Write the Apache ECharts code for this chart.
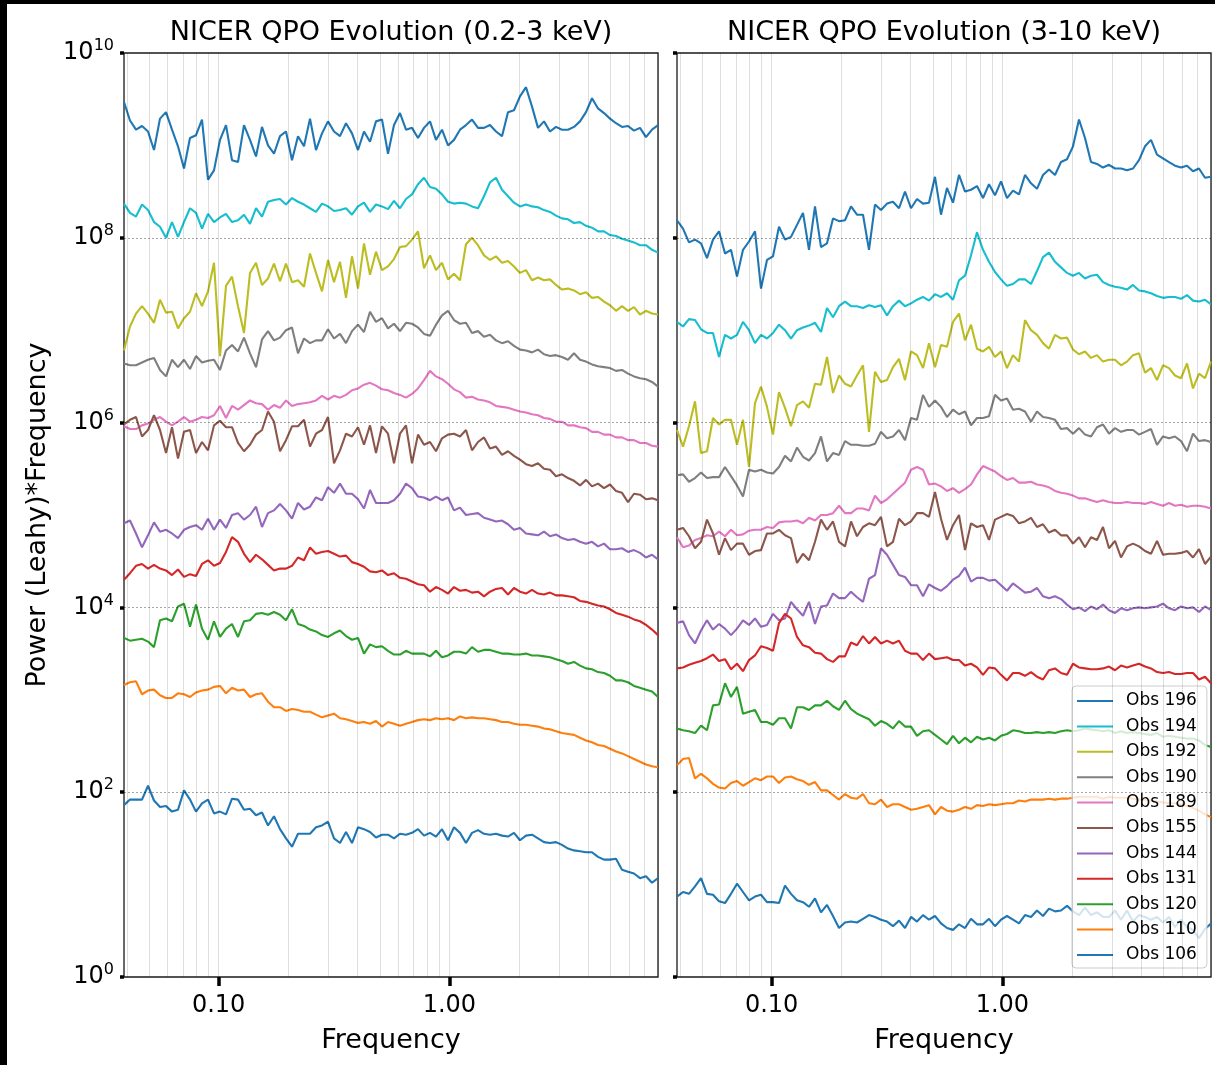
<!DOCTYPE html>
<html>
<head>
<meta charset="utf-8">
<script src="https://cdn.jsdelivr.net/npm/echarts@6/dist/echarts.min.js"></script>
<style>html,body{margin:0;padding:0;background:#fff}#c{width:1215px;height:1065px}</style>
</head>
<body>
<div id="c"></div>
<script>
// log10 of frequency for each sample (shared by all curves)
const freqLog = [-1.41,-1.384,-1.358,-1.332,-1.306,-1.28,-1.254,-1.228,-1.202,-1.176,-1.15,-1.124,-1.098,-1.072,-1.046,-1.02,-0.994,-0.968,-0.942,-0.916,-0.89,-0.864,-0.838,-0.812,-0.786,-0.76,-0.734,-0.708,-0.682,-0.656,-0.63,-0.604,-0.578,-0.552,-0.526,-0.5,-0.474,-0.448,-0.422,-0.396,-0.37,-0.344,-0.318,-0.292,-0.266,-0.24,-0.214,-0.188,-0.162,-0.136,-0.11,-0.084,-0.058,-0.032,-0.006,0.02,0.046,0.072,0.098,0.124,0.15,0.176,0.202,0.228,0.254,0.28,0.306,0.332,0.358,0.384,0.41,0.436,0.462,0.488,0.514,0.54,0.566,0.592,0.618,0.644,0.67,0.696,0.722,0.748,0.774,0.8,0.826,0.852,0.878,0.904];

const obsNames = ['Obs 196','Obs 194','Obs 192','Obs 190','Obs 189','Obs 155','Obs 144','Obs 131','Obs 120','Obs 110','Obs 106'];
const obsColors = ['#1f77b4','#17becf','#bcbd22','#7f7f7f','#e377c2','#8c564b','#9467bd','#d62728','#2ca02c','#ff7f0e','#1f77b4'];

const titles = ['NICER QPO Evolution (0.2-3 keV)','NICER QPO Evolution (3-10 keV)'];
const xTickValues = [0.1, 1];
const yTickValues = [1, 1e2, 1e4, 1e6, 1e8, 1e10];
const xGridValues = [0.04,0.05,0.06,0.07,0.08,0.09,0.1,0.2,0.3,0.4,0.5,0.6,0.7,0.8,0.9,1,2,3,4,5,6,7,8];
const yGridValues = [1e2, 1e4, 1e6, 1e8];

// ---- 0.2-3 keV panel: log10(Power*Frequency) ----
const soft196 = [9.47,9.27,9.17,9.21,9.15,8.95,9.29,9.36,9.17,8.99,8.75,9.08,9.11,9.28,8.63,8.73,9.06,9.22,8.84,8.82,9.22,9.06,8.88,9.20,9.00,8.91,9.10,9.15,8.84,9.10,8.99,9.29,8.95,9.13,9.26,9.15,9.10,9.24,9.13,8.95,9.15,9.04,9.26,9.28,8.91,9.22,9.35,9.17,9.19,9.08,9.19,9.26,9.06,9.17,9.00,9.06,9.17,9.22,9.28,9.19,9.19,9.22,9.15,9.10,9.36,9.38,9.53,9.63,9.42,9.19,9.26,9.15,9.20,9.17,9.17,9.20,9.26,9.36,9.51,9.40,9.35,9.29,9.24,9.20,9.21,9.16,9.19,9.09,9.17,9.22];
const soft194 = [8.37,8.27,8.23,8.36,8.30,8.17,8.12,8.00,8.17,8.01,8.17,8.32,8.27,8.10,8.26,8.17,8.22,8.26,8.17,8.19,8.25,8.15,8.32,8.23,8.39,8.41,8.42,8.36,8.43,8.39,8.36,8.32,8.28,8.37,8.34,8.29,8.30,8.32,8.25,8.34,8.38,8.28,8.36,8.34,8.31,8.40,8.32,8.42,8.47,8.58,8.65,8.55,8.53,8.47,8.39,8.37,8.38,8.37,8.34,8.32,8.45,8.60,8.65,8.52,8.45,8.38,8.34,8.36,8.34,8.33,8.30,8.28,8.24,8.21,8.20,8.16,8.17,8.13,8.11,8.07,8.07,8.03,8.02,7.99,7.97,7.95,7.92,7.92,7.87,7.84];
const soft192 = [6.78,7.04,7.18,7.26,7.18,7.08,7.33,7.19,7.20,7.02,7.13,7.20,7.40,7.26,7.42,7.73,6.72,7.48,7.58,7.26,6.97,7.62,7.73,7.49,7.56,7.72,7.53,7.72,7.52,7.54,7.47,7.83,7.62,7.42,7.76,7.52,7.74,7.35,7.80,7.45,7.94,7.60,7.85,7.65,7.69,7.77,7.90,7.91,7.98,8.07,7.67,7.81,7.65,7.73,7.55,7.61,7.54,7.93,8.00,7.92,7.81,7.76,7.80,7.73,7.75,7.69,7.62,7.65,7.54,7.57,7.54,7.55,7.49,7.44,7.45,7.43,7.39,7.41,7.35,7.36,7.31,7.27,7.21,7.26,7.21,7.25,7.17,7.21,7.18,7.17];
const soft190 = [6.64,6.62,6.62,6.65,6.68,6.70,6.57,6.50,6.68,6.60,6.68,6.58,6.72,6.65,6.67,6.68,6.57,6.78,6.84,6.77,6.92,6.75,6.60,6.90,6.99,6.89,6.92,7.00,7.03,6.75,6.91,6.86,6.89,6.89,7.01,6.91,6.96,6.86,6.99,7.06,6.98,7.20,7.09,7.13,7.02,7.07,6.99,7.08,7.07,7.03,6.96,6.94,7.06,7.16,7.21,7.11,7.07,7.08,6.97,6.99,6.93,6.95,6.89,6.86,6.88,6.83,6.79,6.78,6.76,6.79,6.74,6.72,6.73,6.71,6.68,6.75,6.68,6.66,6.63,6.61,6.60,6.59,6.56,6.57,6.53,6.50,6.48,6.47,6.44,6.39];
const soft189 = [5.96,5.93,5.93,5.97,5.99,6.03,6.06,6.01,5.97,6.01,6.06,6.01,6.03,6.06,6.05,6.08,6.18,6.05,6.18,6.14,6.19,6.24,6.21,6.20,6.14,6.19,6.16,6.24,6.18,6.20,6.21,6.22,6.24,6.29,6.25,6.29,6.27,6.30,6.35,6.37,6.41,6.43,6.40,6.36,6.35,6.32,6.30,6.27,6.31,6.37,6.46,6.56,6.50,6.47,6.42,6.36,6.33,6.27,6.28,6.25,6.24,6.22,6.18,6.17,6.16,6.14,6.12,6.11,6.09,6.08,6.05,6.04,6.01,6.01,5.97,5.97,5.95,5.94,5.90,5.90,5.87,5.87,5.84,5.84,5.81,5.81,5.78,5.78,5.75,5.74];
const soft155 = [5.98,6.03,6.06,5.85,5.92,6.08,5.92,5.67,5.95,5.61,5.90,5.92,5.67,5.79,5.70,5.97,6.02,5.95,5.95,5.78,5.69,5.76,5.87,5.92,6.12,6.01,5.69,5.81,5.96,5.96,6.03,5.74,5.88,5.92,6.06,5.56,5.70,5.88,5.85,5.95,5.76,5.97,5.67,5.96,5.88,5.56,5.88,5.97,5.56,5.87,5.76,5.79,5.69,5.83,5.87,5.88,5.85,5.92,5.70,5.79,5.84,5.72,5.74,5.65,5.69,5.64,5.60,5.55,5.53,5.56,5.50,5.49,5.42,5.44,5.40,5.37,5.32,5.38,5.31,5.34,5.29,5.33,5.26,5.24,5.14,5.23,5.22,5.17,5.18,5.16];
const soft144 = [4.91,4.94,4.80,4.65,4.78,4.92,4.82,4.84,4.80,4.75,4.84,4.87,4.89,4.84,4.96,4.84,4.95,4.86,5.00,5.02,4.95,5.00,5.09,4.87,5.02,5.05,5.12,5.05,4.96,5.13,5.06,5.09,5.19,5.16,5.30,5.24,5.34,5.23,5.23,5.17,5.07,5.27,5.13,5.13,5.13,5.16,5.23,5.34,5.29,5.20,5.19,5.16,5.20,5.16,5.19,5.05,5.08,5.00,5.01,5.02,4.97,4.95,4.93,4.94,4.90,4.84,4.86,4.80,4.79,4.78,4.82,4.77,4.79,4.75,4.73,4.74,4.71,4.69,4.71,4.66,4.69,4.63,4.63,4.64,4.60,4.62,4.59,4.54,4.57,4.52];
const soft131 = [4.30,4.37,4.45,4.47,4.42,4.46,4.42,4.40,4.35,4.41,4.33,4.36,4.34,4.47,4.51,4.45,4.48,4.60,4.76,4.71,4.58,4.49,4.57,4.52,4.46,4.40,4.42,4.42,4.45,4.54,4.51,4.65,4.58,4.60,4.61,4.58,4.55,4.56,4.49,4.47,4.44,4.39,4.38,4.40,4.35,4.37,4.32,4.31,4.28,4.25,4.24,4.17,4.22,4.19,4.15,4.22,4.18,4.19,4.16,4.17,4.12,4.17,4.20,4.21,4.14,4.21,4.17,4.15,4.19,4.15,4.14,4.16,4.13,4.13,4.12,4.11,4.07,4.06,4.04,4.02,4.01,3.98,3.94,3.92,3.90,3.87,3.85,3.81,3.76,3.70];
const soft120 = [3.67,3.64,3.65,3.66,3.63,3.57,3.86,3.88,3.85,4.01,4.04,3.79,4.03,3.77,3.65,3.85,3.68,3.77,3.82,3.68,3.85,3.86,3.93,3.94,3.92,3.95,3.92,3.86,3.98,3.82,3.80,3.76,3.74,3.70,3.68,3.72,3.75,3.69,3.65,3.67,3.50,3.60,3.57,3.58,3.53,3.49,3.49,3.53,3.50,3.50,3.50,3.47,3.53,3.46,3.48,3.52,3.52,3.50,3.57,3.52,3.54,3.54,3.52,3.50,3.50,3.49,3.49,3.50,3.48,3.48,3.47,3.46,3.44,3.42,3.39,3.41,3.37,3.34,3.33,3.30,3.29,3.26,3.21,3.21,3.19,3.15,3.13,3.11,3.09,3.03];
const soft110 = [3.16,3.19,3.20,3.06,3.10,3.11,3.05,3.02,3.02,3.07,3.06,3.03,3.08,3.10,3.11,3.14,3.15,3.07,3.13,3.10,3.11,3.03,3.06,3.07,2.98,2.92,2.92,2.88,2.90,2.89,2.87,2.87,2.84,2.81,2.83,2.85,2.80,2.79,2.77,2.75,2.76,2.74,2.77,2.71,2.76,2.74,2.72,2.74,2.76,2.78,2.79,2.78,2.80,2.79,2.80,2.78,2.82,2.80,2.81,2.80,2.80,2.79,2.78,2.76,2.76,2.74,2.73,2.73,2.72,2.71,2.69,2.68,2.66,2.64,2.63,2.62,2.59,2.56,2.54,2.51,2.50,2.47,2.44,2.42,2.39,2.36,2.33,2.30,2.28,2.27];
const soft106 = [1.86,1.92,1.92,1.92,2.07,1.91,1.84,1.85,1.79,1.81,2.02,1.92,1.79,1.88,1.92,1.77,1.79,1.76,1.93,1.92,1.81,1.82,1.75,1.78,1.64,1.74,1.60,1.50,1.41,1.55,1.55,1.55,1.62,1.64,1.68,1.50,1.45,1.57,1.45,1.62,1.60,1.57,1.51,1.54,1.54,1.50,1.55,1.54,1.56,1.60,1.53,1.56,1.52,1.60,1.48,1.62,1.56,1.45,1.56,1.59,1.55,1.54,1.55,1.53,1.52,1.56,1.48,1.53,1.54,1.50,1.46,1.45,1.46,1.43,1.39,1.37,1.36,1.35,1.35,1.30,1.27,1.27,1.28,1.16,1.14,1.12,1.07,1.09,1.02,1.07];

// ---- 3-10 keV panel: log10(Power*Frequency) ----
const hard196 = [8.19,8.10,7.95,7.98,7.94,7.78,7.98,8.07,7.83,7.87,7.58,7.87,7.96,8.07,7.45,7.76,7.80,8.12,7.98,8.01,8.14,8.27,7.87,8.34,7.90,7.94,8.21,8.18,8.19,8.34,8.25,8.25,7.87,8.36,8.30,8.37,8.39,8.32,8.50,8.32,8.42,8.37,8.38,8.66,8.25,8.54,8.38,8.68,8.50,8.52,8.56,8.43,8.58,8.46,8.61,8.43,8.51,8.47,8.68,8.59,8.53,8.68,8.74,8.68,8.82,8.85,8.99,9.28,9.08,8.82,8.80,8.76,8.79,8.75,8.75,8.73,8.75,8.84,8.99,9.06,8.90,8.86,8.82,8.78,8.76,8.78,8.72,8.75,8.65,8.66];
const hard194 = [7.09,7.04,7.12,7.11,7.01,6.97,6.97,6.71,6.95,6.91,6.95,7.09,7.00,6.86,6.95,6.91,6.97,7.06,7.00,6.91,7.00,7.03,7.05,7.08,6.98,7.24,7.14,7.26,7.31,7.26,7.26,7.24,7.27,7.25,7.27,7.16,7.26,7.32,7.26,7.29,7.33,7.36,7.32,7.39,7.36,7.40,7.33,7.54,7.59,7.81,8.06,7.87,7.74,7.63,7.55,7.48,7.50,7.55,7.55,7.50,7.64,7.79,7.84,7.74,7.68,7.62,7.59,7.62,7.56,7.59,7.60,7.52,7.49,7.47,7.46,7.44,7.49,7.43,7.42,7.40,7.37,7.35,7.36,7.36,7.34,7.38,7.32,7.31,7.33,7.28];
const hard192 = [5.92,5.74,5.96,6.23,5.67,5.69,6.05,5.98,6.03,6.03,5.76,6.03,5.52,6.21,6.39,6.17,5.87,6.33,6.16,5.96,6.19,6.23,6.16,6.42,6.41,6.71,6.32,6.51,6.42,6.39,6.51,6.62,5.90,6.55,6.44,6.46,6.60,6.69,6.46,6.77,6.73,6.59,6.86,6.60,6.84,6.82,7.09,7.18,6.89,7.06,6.80,6.77,6.82,6.71,6.77,6.59,6.73,6.66,7.11,7.00,6.95,6.86,6.80,6.95,6.91,6.92,6.79,6.74,6.77,6.70,6.73,6.66,6.68,6.68,6.62,6.66,6.73,6.75,6.54,6.59,6.46,6.62,6.59,6.51,6.48,6.64,6.37,6.53,6.48,6.66];
const hard190 = [5.43,5.44,5.36,5.40,5.46,5.40,5.41,5.41,5.52,5.42,5.32,5.20,5.49,5.47,5.49,5.46,5.45,5.52,5.64,5.58,5.73,5.63,5.59,5.67,5.85,5.58,5.67,5.65,5.80,5.76,5.76,5.75,5.75,5.77,5.90,5.83,5.85,5.92,5.81,6.05,6.03,6.30,6.17,6.24,6.17,6.06,6.14,6.09,6.12,5.97,6.05,6.05,6.07,6.30,6.24,6.26,6.14,6.15,6.12,6.01,6.12,6.06,6.05,6.03,5.93,5.94,5.88,5.94,5.87,5.85,5.95,5.98,5.88,5.94,5.90,5.92,5.92,5.87,5.90,5.93,5.76,5.85,5.83,5.85,5.80,5.69,5.88,5.80,5.81,5.79];
const hard189 = [4.76,4.65,4.67,4.73,4.75,4.78,4.77,4.82,4.77,4.84,4.78,4.79,4.83,4.84,4.84,4.87,4.86,4.92,4.93,4.93,4.94,4.91,4.97,4.94,5.00,5.00,5.02,5.10,5.02,5.02,5.07,5.07,5.05,5.21,5.13,5.17,5.23,5.29,5.35,5.49,5.52,5.49,5.33,5.34,5.31,5.26,5.29,5.24,5.28,5.33,5.44,5.53,5.50,5.47,5.42,5.38,5.40,5.35,5.35,5.36,5.33,5.32,5.30,5.26,5.24,5.23,5.21,5.18,5.18,5.16,5.14,5.16,5.14,5.13,5.13,5.14,5.13,5.13,5.12,5.14,5.12,5.10,5.13,5.10,5.11,5.09,5.10,5.10,5.09,5.07];
const hard155 = [4.84,4.86,4.77,4.64,4.71,4.95,4.80,4.57,4.75,4.62,4.69,4.69,4.57,4.61,4.62,4.80,4.80,4.84,4.78,4.75,4.48,4.58,4.51,4.71,4.95,4.84,4.93,4.71,4.66,4.93,4.77,4.87,4.91,4.89,4.98,4.66,4.71,4.96,4.89,4.93,5.02,5.02,4.98,5.25,4.96,4.73,4.89,5.00,4.62,4.91,4.87,4.89,4.73,4.95,4.98,5.01,4.99,4.91,4.93,4.97,4.87,4.90,4.81,4.84,4.78,4.78,4.69,4.76,4.65,4.76,4.73,4.87,4.64,4.72,4.54,4.66,4.69,4.66,4.61,4.58,4.72,4.57,4.58,4.58,4.59,4.61,4.54,4.63,4.47,4.55];
const hard144 = [3.83,3.85,3.70,3.61,3.75,3.86,3.76,3.82,3.77,3.70,3.77,3.86,3.81,3.88,3.79,3.81,3.93,3.86,3.88,4.06,3.98,3.91,4.06,3.82,4.01,4.02,4.15,4.10,4.10,4.17,4.11,4.06,4.31,4.35,4.64,4.57,4.46,4.35,4.33,4.24,4.24,4.12,4.25,4.21,4.18,4.23,4.30,4.34,4.43,4.28,4.32,4.32,4.29,4.30,4.24,4.18,4.26,4.21,4.16,4.17,4.21,4.12,4.10,4.12,4.09,4.03,3.98,4.00,3.96,4.01,3.98,4.03,3.97,3.94,3.99,3.97,3.99,4.00,3.99,4.00,4.01,4.04,3.99,3.97,4.01,3.99,4.00,3.95,4.01,3.97];
const hard131 = [3.34,3.35,3.38,3.40,3.42,3.45,3.49,3.42,3.44,3.33,3.39,3.31,3.43,3.48,3.58,3.56,3.53,3.83,3.93,3.88,3.68,3.59,3.57,3.51,3.50,3.44,3.41,3.47,3.47,3.62,3.59,3.69,3.61,3.68,3.61,3.64,3.61,3.64,3.53,3.50,3.50,3.43,3.50,3.44,3.45,3.46,3.43,3.43,3.37,3.39,3.35,3.27,3.35,3.34,3.27,3.21,3.29,3.29,3.26,3.30,3.25,3.22,3.32,3.34,3.29,3.27,3.39,3.35,3.34,3.33,3.33,3.34,3.36,3.32,3.37,3.35,3.37,3.39,3.36,3.34,3.30,3.29,3.30,3.28,3.28,3.29,3.29,3.22,3.25,3.18];
const hard120 = [2.69,2.67,2.66,2.64,2.72,2.67,2.94,2.95,3.18,3.03,3.14,2.85,2.87,2.89,2.76,2.76,2.73,2.80,2.80,2.69,2.92,2.92,2.89,2.94,2.94,2.99,2.93,2.89,2.99,2.90,2.85,2.82,2.79,2.72,2.77,2.74,2.69,2.77,2.71,2.71,2.61,2.66,2.67,2.62,2.57,2.52,2.61,2.53,2.59,2.54,2.60,2.57,2.59,2.56,2.61,2.63,2.67,2.66,2.64,2.64,2.65,2.64,2.65,2.64,2.66,2.67,2.66,2.67,2.69,2.68,2.67,2.66,2.67,2.64,2.66,2.64,2.65,2.64,2.63,2.62,2.64,2.60,2.61,2.60,2.59,2.58,2.58,2.56,2.51,2.49];
const hard110 = [2.29,2.36,2.37,2.15,2.20,2.15,2.09,2.05,2.04,2.10,2.12,2.07,2.11,2.15,2.13,2.17,2.17,2.10,2.16,2.17,2.14,2.12,2.08,2.11,2.02,2.02,1.97,1.92,1.98,1.94,1.93,1.98,1.88,1.87,1.92,1.84,1.87,1.87,1.84,1.81,1.82,1.84,1.86,1.76,1.84,1.80,1.79,1.81,1.84,1.82,1.86,1.85,1.87,1.86,1.87,1.88,1.88,1.91,1.90,1.92,1.92,1.92,1.93,1.92,1.93,1.93,1.94,1.95,1.95,1.95,1.95,1.93,1.95,1.94,1.94,1.94,1.93,1.92,1.92,1.91,1.90,1.89,1.88,1.88,1.87,1.85,1.83,1.80,1.76,1.73];
const hard106 = [0.87,0.92,0.90,0.98,1.07,0.90,0.89,0.82,0.80,0.90,1.01,0.92,0.83,0.87,0.89,0.81,0.81,0.80,0.99,0.90,0.83,0.81,0.76,0.85,0.70,0.78,0.66,0.53,0.59,0.60,0.59,0.63,0.67,0.65,0.62,0.60,0.55,0.61,0.53,0.65,0.60,0.67,0.62,0.66,0.58,0.53,0.51,0.57,0.53,0.63,0.57,0.57,0.63,0.55,0.62,0.66,0.62,0.58,0.67,0.65,0.72,0.66,0.74,0.71,0.72,0.77,0.71,0.67,0.75,0.67,0.70,0.65,0.65,0.72,0.62,0.72,0.60,0.67,0.65,0.62,0.65,0.59,0.65,0.54,0.62,0.54,0.51,0.42,0.52,0.58];

const softSeries = [soft196,soft194,soft192,soft190,soft189,soft155,soft144,soft131,soft120,soft110,soft106];
const hardSeries = [hard196,hard194,hard192,hard190,hard189,hard155,hard144,hard131,hard120,hard110,hard106];

const FONT = 'DejaVu Sans';
const freq = freqLog.map(v => Math.pow(10, v));
const toPoints = arr => arr.map((v, i) => [freq[i], Math.pow(10, v)]);

const chart = echarts.init(document.getElementById('c'), null, {renderer: 'canvas', width: 1215, height: 1065});

function xAxisCfg(idx) {
  return {
    type: 'log', logBase: 10, gridIndex: idx,
    min: freq[0], max: freq[freq.length - 1],
    name: 'Frequency', nameLocation: 'middle', nameGap: 50,
    nameTextStyle: {fontSize: 27, fontFamily: FONT, color: '#000', lineHeight: 27},
    axisLine: {show: false},
    axisTick: {show: true, customValues: xTickValues, length: 9, lineStyle: {color: '#000', width: 3.5}},
    axisLabel: {customValues: xTickValues, margin: 17, fontSize: 24, fontFamily: FONT, color: '#000',
      formatter: v => Number(v).toFixed(2)},
    splitLine: {show: false}, minorTick: {show: false}, minorSplitLine: {show: false}
  };
}
function yAxisCfg(idx) {
  const cfg = {
    type: 'log', logBase: 10, gridIndex: idx, min: 1, max: 1e10,
    axisLine: {show: false},
    axisTick: {show: true, customValues: yTickValues, length: 4, lineStyle: {color: '#000', width: 3.5}},
    axisLabel: {show: idx === 0, customValues: yTickValues, margin: 10,
      formatter: v => '{b|10}{s|' + Math.round(Math.log10(v)) + '}',
      rich: {
        b: {fontSize: 24, fontFamily: FONT, color: '#000', lineHeight: 30},
        s: {fontSize: 16, fontFamily: FONT, color: '#000', verticalAlign: 'top', lineHeight: 18}
      }},
    splitLine: {show: false}, minorTick: {show: false}, minorSplitLine: {show: false}
  };
  if (idx === 0) {
    cfg.name = 'Power (Leahy)*Frequency';
    cfg.nameLocation = 'middle';
    cfg.nameGap = 73;
    cfg.nameTextStyle = {fontSize: 27, fontFamily: FONT, color: '#000', lineHeight: 27};
  }
  return cfg;
}

const series = [];
[0, 1].forEach(g => {
  series.push({
    type: 'line', name: '_grid' + g, xAxisIndex: g, yAxisIndex: g, z: 1, silent: true,
    data: [[freq[0], 1]], symbol: 'none', lineStyle: {opacity: 0},
    markLine: {
      silent: true, symbol: ['none', 'none'], label: {show: false}, animation: false,
      data: xGridValues.map(v => ({xAxis: v, lineStyle: {color: 'rgba(0,0,0,0.13)', width: 1, type: 'solid'}}))
        .concat(yGridValues.map(v => ({yAxis: v, lineStyle: {color: 'rgba(0,0,0,0.35)', width: 1, type: [2, 2]}})))
    }
  });
  const arrs = g === 0 ? softSeries : hardSeries;
  arrs.forEach((arr, k) => {
    series.push({
      type: 'line', name: obsNames[k], xAxisIndex: g, yAxisIndex: g, z: 2,
      data: toPoints(arr), symbol: 'none', showSymbol: false, clip: true,
      lineStyle: {color: obsColors[k], width: 2.1}, itemStyle: {color: obsColors[k]},
      emphasis: {disabled: true}
    });
  });
});

chart.setOption({
  animation: false,
  backgroundColor: '#fff',
  textStyle: {fontFamily: FONT},
  title: [
    {text: titles[0], left: 391, top: 19, textAlign: 'center', padding: 0,
      textStyle: {fontSize: 27, fontWeight: 'normal', fontFamily: FONT, color: '#000', lineHeight: 27}},
    {text: titles[1], left: 944, top: 19, textAlign: 'center', padding: 0,
      textStyle: {fontSize: 27, fontWeight: 'normal', fontFamily: FONT, color: '#000', lineHeight: 27}}
  ],
  grid: [
    {left: 124, top: 53, width: 534, height: 924, show: true, borderColor: '#1a1a1a', borderWidth: 1.3, backgroundColor: 'transparent'},
    {left: 677, top: 53, width: 534, height: 924, show: true, borderColor: '#1a1a1a', borderWidth: 1.3, backgroundColor: 'transparent'}
  ],
  xAxis: [xAxisCfg(0), xAxisCfg(1)],
  yAxis: [yAxisCfg(0), yAxisCfg(1)],
  legend: {
    data: obsNames, orient: 'vertical', left: 1072, top: 686,
    icon: 'rect', itemWidth: 36, itemHeight: 2, itemGap: 7.4, selectedMode: false,
    padding: [6, 10, 4, 5],
    backgroundColor: 'rgba(255,255,255,0.8)', borderColor: '#cccccc', borderWidth: 1, borderRadius: 4,
    textStyle: {fontSize: 17, fontFamily: FONT, color: '#000', lineHeight: 18, padding: [0, 0, 0, 8]}
  },
  graphic: [
    {type: 'rect', shape: {x: 0, y: 0, width: 1215, height: 4}, style: {fill: '#000'}, z: 100},
    {type: 'rect', shape: {x: 0, y: 0, width: 7, height: 1065}, style: {fill: '#000'}, z: 100}
  ],
  series: series
});
</script>
</body>
</html>
